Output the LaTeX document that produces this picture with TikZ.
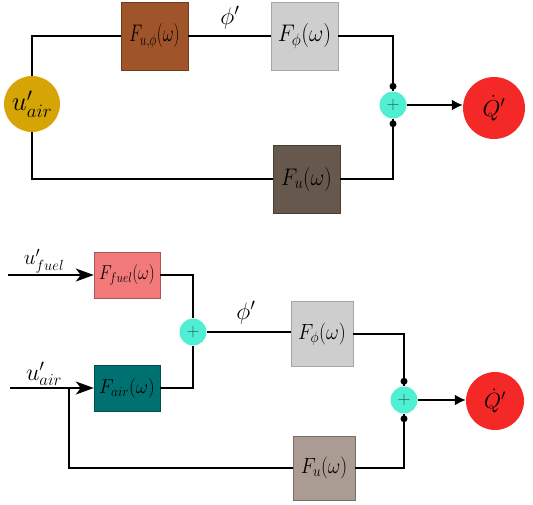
\RequirePackage{fix-cm}
\documentclass[tikz,border=0pt]{standalone}
\usepackage{graphicx}
\usetikzlibrary{arrows.meta,calc}
\definecolor{cgold}{RGB}{212,165,5}
\definecolor{cbrown}{RGB}{160,84,42}
\definecolor{clgray}{RGB}{206,206,206}
\definecolor{cdbrown}{RGB}{102,88,76}
\definecolor{cturq}{RGB}{80,238,210}
\definecolor{cred}{RGB}{245,40,40}
\definecolor{ccoral}{RGB}{242,122,122}
\definecolor{cteal}{RGB}{0,112,112}
\definecolor{ctaupe}{RGB}{170,156,146}
\newcommand{\fs}[1]{\fontsize{#1}{#1}\selectfont}
\newcommand{\sq}[2]{\scalebox{#1}[1]{#2}}
\tikzset{
  blk/.style={rectangle, inner sep=0pt, draw=black!35, line width=0.4pt},
  sumnode/.style={circle, fill=cturq, minimum size=27pt, inner sep=0pt, text=black!60!cturq, font=\fs{18}},
  conn/.style={line width=2pt, draw=black},
  jdot/.style={circle, fill=black, inner sep=0pt, minimum size=7pt},
  lbl/.style={inner sep=0pt},
  inarrow/.style={-{Stealth[length=18pt,width=13pt,inset=5pt]}},
  outarrow/.style={-{Latex[length=11pt,width=11pt]}},
}
\begin{document}
\begin{tikzpicture}[x=1pt,y=-1pt]
\useasboundingbox (0,0) rectangle (533,504);
% ---------- top diagram ----------
\node[circle, fill=cgold, minimum size=56pt, inner sep=0pt, font=\fs{27}] (ua) at (32,104) {$u'_{air}$};
\node[blk, fill=cbrown, draw=cbrown!70!black, minimum width=67pt, minimum height=68pt, font=\fs{24}] (Fuphi) at (154.5,36) {\sq{0.7}{$F_{u,\phi}(\omega)$}};
\node[blk, fill=clgray, minimum width=67pt, minimum height=68pt, font=\fs{24}] (Fphi1) at (304.5,36) {\sq{0.92}{$F_{\phi}(\omega)$}};
\node[blk, fill=cdbrown, draw=cdbrown!70!black, minimum width=67pt, minimum height=68pt, font=\fs{24}] (Fu1) at (306.5,179) {\sq{0.88}{$F_{u}(\omega)$}};
\node[sumnode] (s1) at (393,105) {$+$};
\node[circle, fill=cred, minimum size=62pt, inner sep=0pt, font=\fs{23}] (Q1) at (494,108) {$\dot{Q}'$};
\node[lbl, font=\fs{24}] (phi1) at (230,18) {$\phi'$};
\coordinate (d1a) at ($(s1.north)+(0,-5)$);
\coordinate (d1b) at ($(s1.south)+(0,5)$);
\draw[conn] (ua.north) |- (Fuphi.west);
\draw[conn] (Fuphi.east) -- (Fphi1.west);
\draw[conn] (Fphi1.east) -| (s1.north);
\draw[conn] (ua.south) |- (Fu1.west);
\draw[conn] (Fu1.east) -| (s1.south);
\draw[conn, outarrow] (s1.east) -- (Q1.west |- s1.east);
\node[jdot] at (d1a) {};
\node[jdot] at (d1b) {};
% ---------- bottom diagram ----------
\node[blk, fill=ccoral, draw=ccoral!70!black, minimum width=66pt, minimum height=46pt, font=\fs{20}] (Ffuel) at (127,275) {\sq{0.83}{$F_{fuel}(\omega)$}};
\node[blk, fill=cteal, draw=cteal!70!black, minimum width=66pt, minimum height=46pt, font=\fs{20}] (Fair) at (127,388) {\sq{0.95}{$F_{air}(\omega)$}};
\node[sumnode] (s2) at (193,332) {$+$};
\node[blk, fill=clgray, minimum width=62pt, minimum height=65pt, font=\fs{22}] (Fphi2) at (322,334) {\sq{0.9}{$F_{\phi}(\omega)$}};
\node[blk, fill=ctaupe, draw=ctaupe!70!black, minimum width=62pt, minimum height=64pt, font=\fs{22}] (Fu2) at (324,468) {\sq{0.88}{$F_{u}(\omega)$}};
\node[sumnode] (s3) at (404,400) {$+$};
\node[circle, fill=cred, minimum size=58pt, inner sep=0pt, font=\fs{22}] (Q2) at (495,401) {$\dot{Q}'$};
\node[lbl, font=\fs{24}] (phi2) at (246,313) {$\phi'$};
\node[lbl, font=\fs{21}] (lfuel) at (44,261) {$u'_{fuel}$};
\node[lbl, font=\fs{24}] (lair) at (44,374) {$u'_{air}$};
\coordinate (infuel) at (8,275);
\coordinate (inair) at (10,388);
\coordinate (br) at (69,388);
\coordinate (d3a) at ($(s3.north)+(0,-5)$);
\coordinate (d3b) at ($(s3.south)+(0,5)$);
\draw[conn, inarrow] (infuel) -- (Ffuel.west);
\draw[conn, inarrow] (inair) -- (Fair.west);
\draw[conn] (Ffuel.east) -| (s2.north);
\draw[conn] (Fair.east) -| (s2.south);
\draw[conn] (s2.east) -- (Fphi2.west |- s2.east);
\draw[conn] (Fphi2.east) -| (s3.north);
\draw[conn] (br) |- (Fu2.west);
\draw[conn] (Fu2.east) -| (s3.south);
\draw[conn, outarrow] (s3.east) -- (Q2.west |- s3.east);
\node[jdot] at (d3a) {};
\node[jdot] at (d3b) {};
\end{tikzpicture}
\end{document}
